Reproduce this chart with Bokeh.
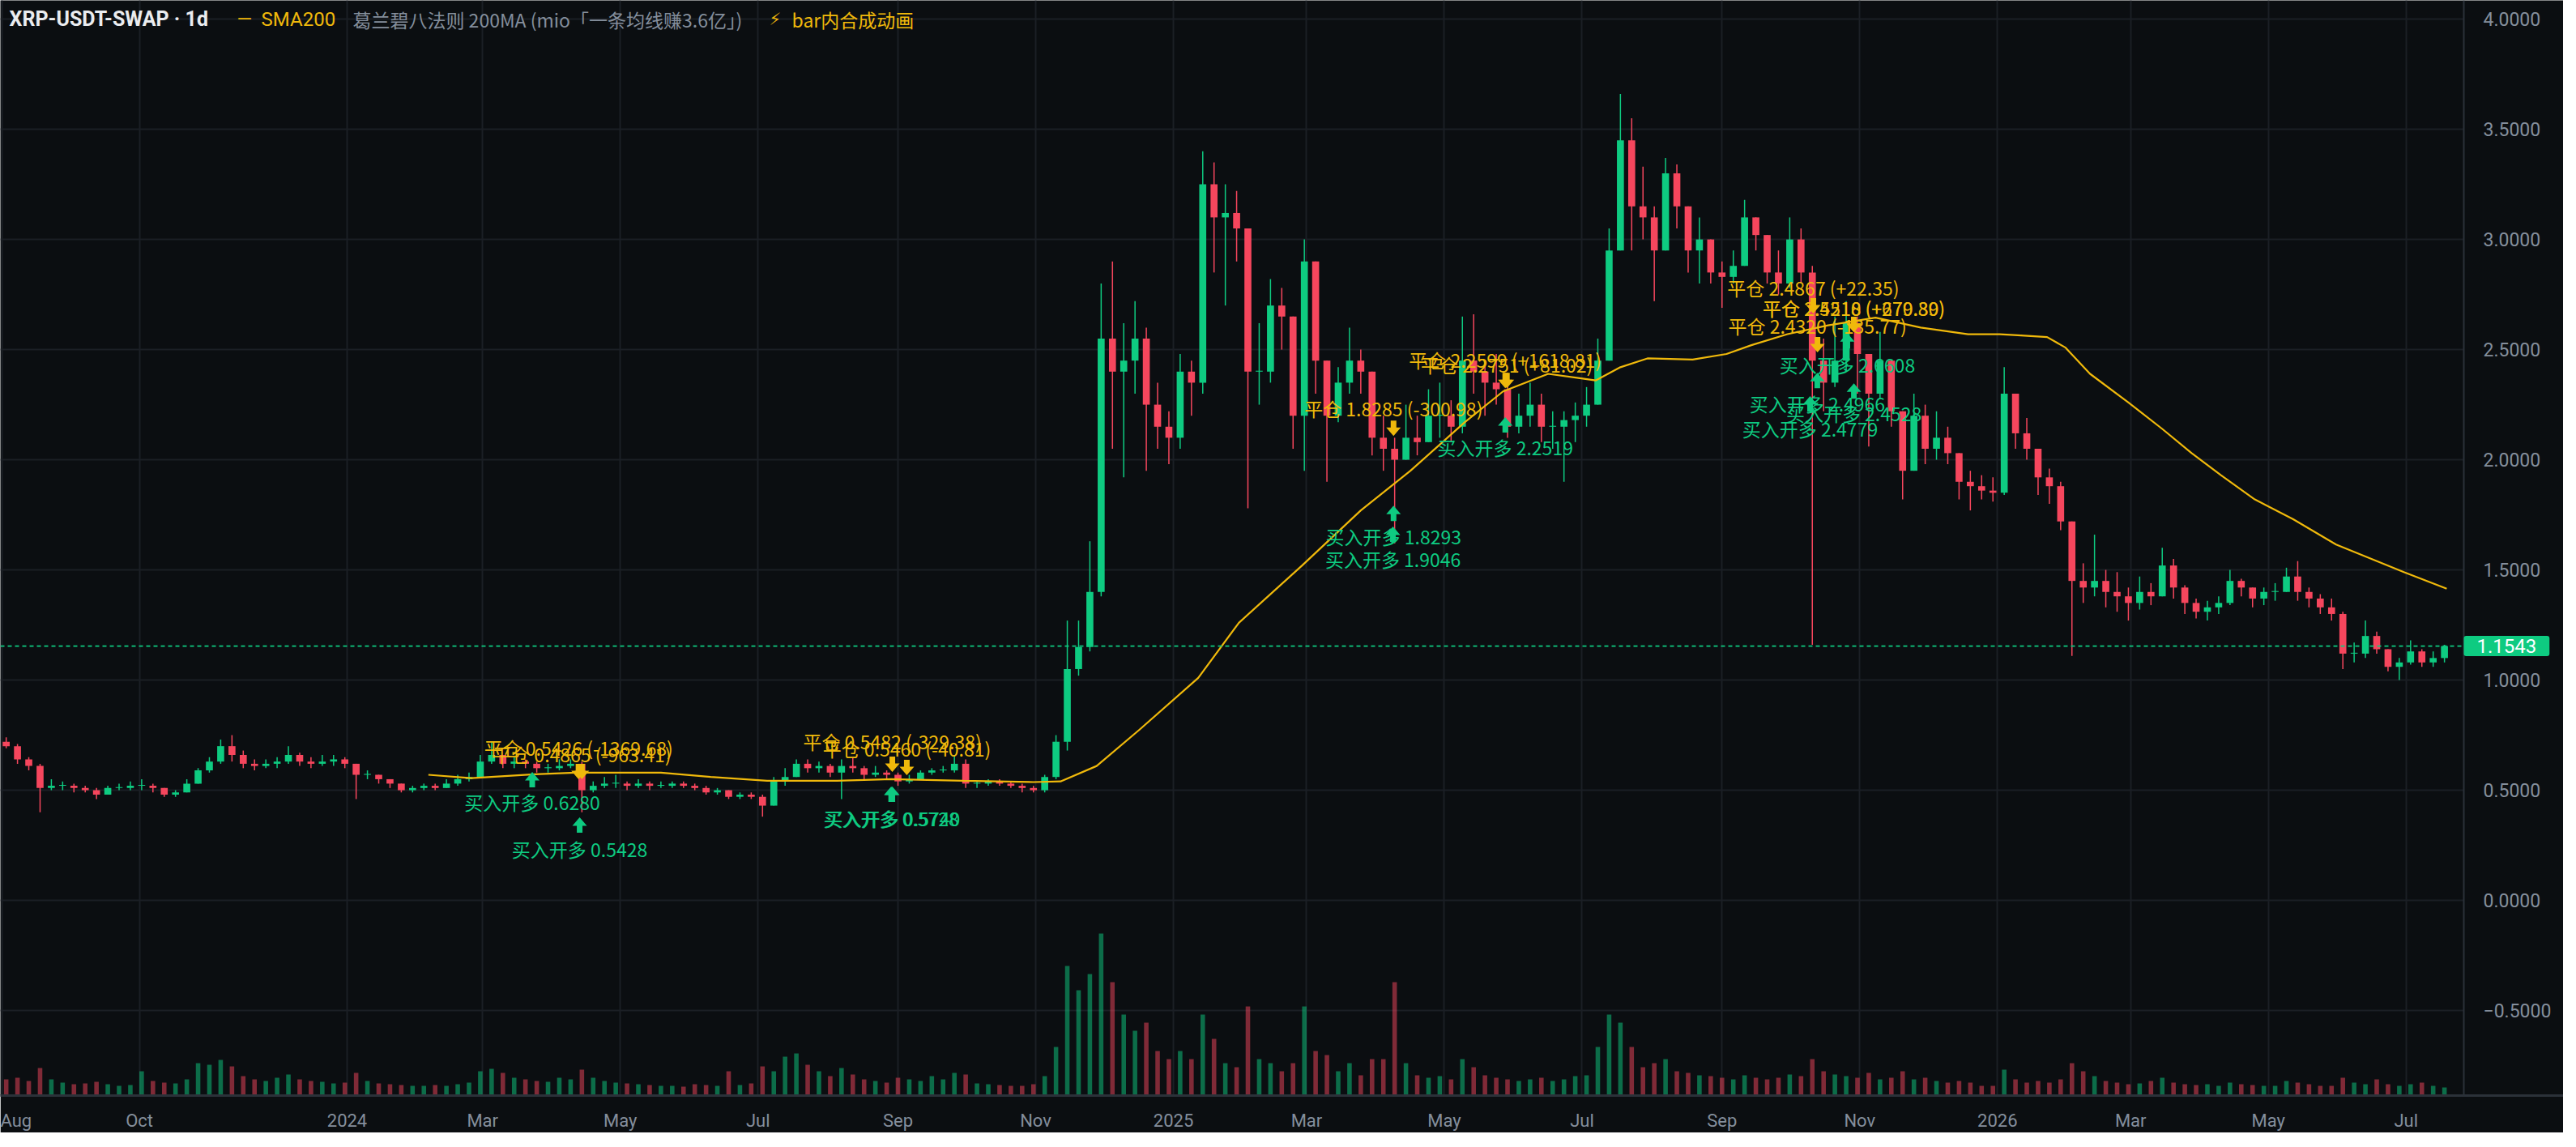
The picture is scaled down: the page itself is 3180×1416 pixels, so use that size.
import numpy as np
import pandas as pd
from bokeh.plotting import figure
from bokeh.models import ColumnDataSource, Range1d, FixedTicker, PrintfTickFormatter, Label, LinearAxis
from bokeh.layouts import column
from bokeh.core.properties import value
from bokeh.embed import file_html
from bokeh.resources import INLINE

# ---------------- data ----------------
first_candle_date = "2023-08-03"      # centre of the first 5-day candle
candle_days = 5
first_open = 0.72
closes = [
    0.70, 0.64, 0.61, 0.51, 0.52, 0.52, 0.51, 0.50, 0.48, 0.51,
    0.51, 0.52, 0.52, 0.51, 0.48, 0.49, 0.53, 0.59, 0.63, 0.70,
    0.66, 0.62, 0.61, 0.62, 0.63, 0.66, 0.63, 0.62, 0.63, 0.64,
    0.62, 0.57, 0.57, 0.55, 0.53, 0.50, 0.51, 0.52, 0.51, 0.53,
    0.55, 0.56, 0.63, 0.66, 0.62, 0.63, 0.62, 0.60, 0.60, 0.61,
    0.62, 0.50, 0.52, 0.53, 0.53, 0.52, 0.53, 0.52, 0.52, 0.53,
    0.52, 0.51, 0.49, 0.50, 0.47, 0.48, 0.47, 0.43, 0.54, 0.56,
    0.62, 0.60, 0.61, 0.58, 0.61, 0.60, 0.57, 0.58, 0.57, 0.54,
    0.55, 0.58, 0.59, 0.59, 0.62, 0.53, 0.53, 0.54, 0.53, 0.52,
    0.51, 0.50, 0.56, 0.72, 1.05, 1.15, 1.40, 2.55, 2.40, 2.45,
    2.55, 2.25, 2.15, 2.10, 2.40, 2.35, 3.25, 3.10, 3.12, 3.05,
    2.40, 2.40, 2.70, 2.65, 2.20, 2.90, 2.45, 2.20, 2.35, 2.45,
    2.40, 2.10, 2.05, 2.00, 2.10, 2.08, 2.20, 2.20, 2.15, 2.45,
    2.40, 2.35, 2.32, 2.15, 2.20, 2.25, 2.15, 2.15, 2.18, 2.20,
    2.25, 2.45, 2.95, 3.45, 3.15, 3.10, 2.95, 3.30, 3.15, 2.95,
    3.00, 2.85, 2.83, 2.88, 3.10, 3.02, 2.85, 2.80, 3.00, 2.85,
    2.45, 2.35, 2.45, 2.62, 2.48, 2.30, 2.45, 2.22, 1.95, 2.20,
    2.05, 2.10, 2.03, 1.90, 1.88, 1.86, 1.85, 2.30, 2.12, 2.05,
    1.92, 1.88, 1.72, 1.45, 1.42, 1.45, 1.40, 1.38, 1.35, 1.40,
    1.38, 1.52, 1.42, 1.35, 1.31, 1.33, 1.35, 1.45, 1.42, 1.37,
    1.40, 1.40, 1.47, 1.40, 1.37, 1.33, 1.30, 1.12, 1.12, 1.20,
    1.14, 1.06, 1.08, 1.13, 1.08, 1.10, 1.1543,
]
highs = [
    0.74, 0.71, 0.65, 0.62, 0.55, 0.54, 0.53, 0.52, 0.51, 0.52,
    0.53, 0.54, 0.55, 0.53, 0.51, 0.50, 0.55, 0.60, 0.65, 0.73,
    0.75, 0.68, 0.64, 0.64, 0.65, 0.70, 0.67, 0.65, 0.66, 0.66,
    0.65, 0.62, 0.59, 0.57, 0.55, 0.53, 0.52, 0.53, 0.53, 0.55,
    0.57, 0.58, 0.66, 0.72, 0.66, 0.65, 0.64, 0.63, 0.62, 0.64,
    0.64, 0.63, 0.54, 0.56, 0.57, 0.54, 0.55, 0.54, 0.54, 0.54,
    0.54, 0.53, 0.52, 0.51, 0.49, 0.49, 0.49, 0.48, 0.56, 0.60,
    0.64, 0.64, 0.63, 0.62, 0.64, 0.65, 0.61, 0.61, 0.59, 0.58,
    0.57, 0.59, 0.60, 0.61, 0.66, 0.64, 0.54, 0.55, 0.55, 0.54,
    0.53, 0.52, 0.57, 0.75, 1.27, 1.27, 1.63, 2.80, 2.90, 2.62,
    2.72, 2.60, 2.35, 2.22, 2.48, 2.45, 3.40, 3.35, 3.25, 3.22,
    3.05, 2.62, 2.82, 2.78, 2.65, 3.00, 2.90, 2.45, 2.42, 2.60,
    2.50, 2.40, 2.20, 2.10, 2.25, 2.20, 2.32, 2.35, 2.27, 2.65,
    2.66, 2.45, 2.48, 2.35, 2.30, 2.35, 2.30, 2.22, 2.22, 2.26,
    2.33, 2.55, 3.05, 3.66, 3.55, 3.33, 3.15, 3.37, 3.34, 3.14,
    3.10, 3.00, 2.90, 2.95, 3.18, 3.10, 3.00, 2.95, 3.10, 3.05,
    2.88, 2.55, 2.65, 2.72, 2.65, 2.48, 2.58, 2.45, 2.22, 2.30,
    2.25, 2.22, 2.15, 2.03, 1.95, 1.93, 1.92, 2.42, 2.30, 2.19,
    2.05, 1.96, 1.90, 1.72, 1.53, 1.66, 1.50, 1.49, 1.42, 1.47,
    1.44, 1.60, 1.55, 1.43, 1.37, 1.36, 1.38, 1.50, 1.46, 1.42,
    1.42, 1.44, 1.51, 1.54, 1.42, 1.39, 1.37, 1.31, 1.17, 1.27,
    1.22, 1.13, 1.10, 1.18, 1.14, 1.13, 1.16,
]
lows = [
    0.69, 0.62, 0.59, 0.40, 0.50, 0.50, 0.49, 0.49, 0.46, 0.48,
    0.50, 0.50, 0.50, 0.49, 0.47, 0.47, 0.49, 0.53, 0.58, 0.62,
    0.63, 0.60, 0.59, 0.60, 0.60, 0.62, 0.61, 0.60, 0.61, 0.61,
    0.60, 0.46, 0.55, 0.53, 0.51, 0.49, 0.49, 0.50, 0.50, 0.51,
    0.52, 0.54, 0.56, 0.62, 0.60, 0.60, 0.60, 0.58, 0.58, 0.59,
    0.60, 0.40, 0.49, 0.51, 0.51, 0.50, 0.51, 0.50, 0.51, 0.51,
    0.51, 0.50, 0.48, 0.48, 0.46, 0.46, 0.46, 0.38, 0.43, 0.52,
    0.56, 0.58, 0.58, 0.56, 0.46, 0.58, 0.55, 0.56, 0.55, 0.52,
    0.53, 0.55, 0.57, 0.58, 0.58, 0.51, 0.51, 0.52, 0.52, 0.51,
    0.49, 0.49, 0.49, 0.55, 0.68, 1.02, 1.13, 1.38, 2.05, 1.92,
    2.30, 1.95, 2.05, 1.98, 2.05, 2.20, 2.30, 2.85, 2.70, 2.90,
    1.78, 2.25, 2.35, 2.50, 2.05, 1.95, 2.30, 1.90, 2.17, 2.30,
    2.30, 2.02, 1.95, 1.62, 2.00, 2.02, 2.08, 2.10, 2.08, 2.12,
    2.30, 2.20, 2.25, 2.10, 2.12, 2.15, 2.08, 2.05, 1.90, 2.08,
    2.15, 2.25, 2.45, 2.95, 2.95, 3.00, 2.72, 2.95, 3.05, 2.85,
    2.80, 2.80, 2.69, 2.80, 2.88, 2.95, 2.80, 2.75, 2.78, 2.80,
    1.16, 2.22, 2.33, 2.40, 2.30, 2.06, 2.28, 2.15, 1.82, 1.95,
    1.98, 2.00, 1.98, 1.82, 1.77, 1.82, 1.81, 1.84, 2.05, 2.00,
    1.84, 1.80, 1.68, 1.11, 1.35, 1.38, 1.33, 1.31, 1.27, 1.32,
    1.34, 1.38, 1.37, 1.30, 1.28, 1.27, 1.30, 1.34, 1.38, 1.33,
    1.34, 1.36, 1.40, 1.36, 1.33, 1.30, 1.27, 1.05, 1.08, 1.10,
    1.12, 1.04, 1.00, 1.07, 1.06, 1.06, 1.08,
]
volumes = [
    20, 22, 18, 34, 20, 16, 14, 15, 17, 14,
    12, 13, 30, 18, 16, 15, 20, 40, 38, 44,
    36, 24, 20, 18, 22, 26, 20, 18, 17, 15,
    16, 28, 18, 15, 14, 13, 12, 12, 13, 12,
    14, 16, 30, 33, 28, 22, 20, 18, 17, 22,
    20, 32, 22, 18, 16, 15, 14, 13, 12, 12,
    11, 14, 13, 12, 30, 13, 15, 36, 30, 48,
    52, 38, 30, 24, 34, 26, 20, 18, 16, 22,
    20, 18, 24, 20, 28, 26, 15, 14, 13, 12,
    12, 14, 24, 60, 160, 130, 150, 200, 140, 100,
    80, 90, 55, 45, 55, 45, 100, 70, 40, 35,
    110, 45, 40, 30, 40, 110, 55, 50, 30, 40,
    25, 45, 45, 140, 40, 25, 22, 24, 20, 45,
    35, 25, 22, 20, 18, 20, 22, 18, 20, 24,
    25, 60, 100, 90, 60, 35, 40, 45, 30, 28,
    25, 24, 22, 20, 25, 22, 20, 22, 26, 24,
    45, 30, 26, 24, 22, 28, 20, 22, 30, 20,
    22, 18, 16, 18, 16, 12, 12, 32, 20, 16,
    18, 16, 20, 40, 30, 24, 18, 16, 14, 15,
    18, 22, 16, 14, 13, 14, 12, 16, 14, 13,
    12, 12, 18, 16, 14, 12, 12, 22, 16, 14,
    20, 14, 12, 14, 16, 12, 10,
]
last_price = 1.1543

sma_dates = [
    "2024-02-06", "2024-02-25", "2024-03-24", "2024-04-11", "2024-05-03", "2024-05-19",
    "2024-06-10", "2024-07-05", "2024-08-05", "2024-08-29", "2024-09-30", "2024-10-31",
    "2024-11-12", "2024-11-28", "2024-12-17", "2025-01-12", "2025-01-30", "2025-02-27",
    "2025-03-25", "2025-04-16", "2025-05-10", "2025-05-27", "2025-06-16", "2025-06-30",
    "2025-07-07", "2025-07-18", "2025-07-30", "2025-08-19", "2025-09-03", "2025-09-14",
    "2025-09-30", "2025-10-18", "2025-11-08", "2025-11-28", "2025-12-19", "2026-01-02",
    "2026-01-10", "2026-01-23", "2026-01-31", "2026-02-11", "2026-02-28", "2026-03-15",
    "2026-03-28", "2026-04-10", "2026-04-25", "2026-05-12", "2026-05-31", "2026-06-30",
    "2026-07-19",
]
sma_values = [
    0.570, 0.555, 0.572, 0.580, 0.580, 0.580,
    0.560, 0.543, 0.543, 0.550, 0.543, 0.537,
    0.540, 0.610, 0.775, 1.010, 1.260, 1.520,
    1.770, 1.950, 2.170, 2.310, 2.390, 2.370,
    2.360, 2.420, 2.460, 2.455, 2.480, 2.520,
    2.570, 2.610, 2.645, 2.600, 2.570, 2.570,
    2.565, 2.557, 2.510, 2.390, 2.260, 2.140,
    2.030, 1.930, 1.820, 1.730, 1.615, 1.490,
    1.415,
]

month_ticks = [
    "2023-08-01", "2023-10-01", "2024-01-01", "2024-03-01", "2024-05-01", "2024-07-01",
    "2024-09-01", "2024-11-01", "2025-01-01", "2025-03-01", "2025-05-01", "2025-07-01",
    "2025-09-01", "2025-11-01", "2026-01-01", "2026-03-01", "2026-05-01", "2026-07-01",
]
month_labels = ["Aug", "Oct", "2024", "Mar", "May", "Jul", "Sep", "Nov", "2025",
                "Mar", "May", "Jul", "Sep", "Nov", "2026", "Mar", "May", "Jul"]
price_ticks = [-0.5, 0.0, 0.5, 1.0, 1.5, 2.0, 2.5, 3.0, 3.5, 4.0]

buy_dates = ["2024-03-23 00:00", "2024-04-13 00:00", "2024-08-29 00:00", "2024-08-29 12:00",
             "2025-04-08 12:00", "2025-04-08 06:00", "2025-05-28 00:00", "2025-10-26 12:00",
             "2025-10-13 05:00", "2025-10-29 10:00", "2025-10-10 00:00"]
buy_arrow_y = [0.548, 0.342, 0.482, 0.482, 1.757, 1.662, 2.158, 2.540, 2.360, 2.312, 2.254]
buy_label_y = [0.445, 0.235, 0.375, 0.375, 1.654, 1.551, 2.059, 2.434, 2.254, 2.210, 2.143]
buy_labels = ["买入开多 0.6280", "买入开多 0.5428", "买入开多 0.5728", "买入开多 0.5740",
              "买入开多 1.8293", "买入开多 1.9046", "买入开多 2.2519", "买入开多 2.6608",
              "买入开多 2.4966", "买入开多 2.4528", "买入开多 2.4779"]

sell_dates = ["2024-04-12 12:00", "2024-04-14 00:00", "2024-08-29 12:00", "2024-09-04 22:00",
              "2025-04-08 12:00", "2025-05-28 00:00", "2025-05-28 17:00", "2025-10-11 10:00",
              "2025-10-29 10:00", "2025-10-29 10:00", "2025-10-13 07:00"]
sell_arrow_y = [0.585, 0.585, 0.618, 0.603, 2.143, 2.360, 2.360, 2.699, 2.614, 2.614, 2.522]
sell_label_y = [0.695, 0.665, 0.724, 0.688, 2.232, 2.456, 2.434, 2.783, 2.691, 2.691, 2.607]
sell_labels = ["平仓 0.5426 (-1369.68)", "平仓 0.4865 (-963.41)", "平仓 0.5482 (-329.38)",
               "平仓 0.5460 (-40.81)", "平仓 1.8285 (-300.98)", "平仓 2.2599 (+1618.81)",
               "平仓 2.2751 (+81.02)", "平仓 2.4867 (+22.35)", "平仓 2.5218 (+279.30)",
               "平仓 2.4510 (+670.89)", "平仓 2.4320 (-135.77)"]

header_dates = ["2023-08-04 10:00", "2023-11-13 05:00", "2023-11-24 00:00",
                "2024-01-03 12:00", "2024-07-05 22:00", "2024-07-16 00:00"]
header_texts = ["XRP-USDT-SWAP · 1d", "—", "SMA200",
                "葛兰碧八法则 200MA (mio「一条均线赚3.6亿」)", "⚡", "bar内合成动画"]
header_y = 4.0

# ---------------- styling ----------------
BG = "#0b0e11"
GRID = "#1b1f25"
AXIS = "#2b3139"
GRAY = "#848e9c"
GREEN = "#0ecb81"
RED = "#f6465d"
YELLOW = "#f0b90b"
WHITE = "#eaecef"
CJK = "Noto Sans CJK SC"
LAT = "Roboto"

DAY_MS = 86400000.0
PLOT_W, FRAME_H = 3041, 1352      # price area width (to the axis line) and frame height
TOTAL_W = 3164


def to_ms(dates):
    return pd.to_datetime(dates).as_unit("ns").asi8 / 1e6


jan1 = pd.Timestamp("2024-01-01").value / 1e6
x_start = jan1 - 153.57 * DAY_MS
axis_x = jan1 + 937.57 * DAY_MS          # where the price axis line sits
px_x = (axis_x - x_start) / PLOT_W
x_end = x_start + TOTAL_W * px_x
y_start, y_end = -0.886, 4.085
px_y = (y_end - y_start) / FRAME_H

p = figure(frame_width=TOTAL_W, frame_height=FRAME_H, x_axis_type="datetime",
           y_axis_location=None,
           x_range=Range1d(x_start, x_end), y_range=Range1d(y_start, y_end),
           output_backend="svg", toolbar_location=None,
           background_fill_color=BG, border_fill_color=BG, outline_line_color=None,
           min_border_left=0, min_border_top=0, min_border_right=0, min_border_bottom=42)
p.extra_y_ranges = {"vol": Range1d(0, FRAME_H)}

# price axis drawn at a fixed location, labels to its right
yax = LinearAxis(fixed_location=axis_x, ticker=FixedTicker(ticks=price_ticks),
                 formatter=PrintfTickFormatter(format="%.4f"))
yax.major_label_overrides = {-0.5: "\u22120.5000"}
yax.major_tick_line_color = None
yax.minor_tick_line_color = None
yax.axis_line_color = AXIS
yax.axis_line_width = 2
yax.major_label_text_color = GRAY
yax.major_label_text_font = LAT
yax.major_label_text_font_size = "23px"
yax.major_label_standoff = 18
p.add_layout(yax, "right")

# grid
p.xgrid.grid_line_color = GRID
p.xgrid.grid_line_width = 2
p.ygrid.visible = False
p.segment(x0=x_start, y0=price_ticks, x1=axis_x, y1=price_ticks,
          line_color=GRID, line_width=2)

# x axis
tick_ms = list(to_ms(month_ticks))
p.xaxis.ticker = FixedTicker(ticks=tick_ms)
p.xaxis.major_label_overrides = {t: l for t, l in zip(tick_ms, month_labels)}
p.xaxis.major_tick_line_color = None
p.xaxis.minor_tick_line_color = None
p.xaxis.axis_line_color = AXIS
p.xaxis.axis_line_width = 3
p.xaxis.major_label_text_color = GRAY
p.xaxis.major_label_text_font = LAT
p.xaxis.major_label_text_font_size = "22px"
p.xaxis.major_label_standoff = 12

# candles + volume
n = len(closes)
dates = pd.date_range(first_candle_date, periods=n, freq=f"{candle_days}D")
x_ms = dates.as_unit("ns").asi8 / 1e6
c = np.array(closes, dtype=float)
o = np.array([first_open] + closes[:-1], dtype=float)
hi = np.maximum.reduce([np.array(highs, dtype=float), o, c])
lo = np.minimum.reduce([np.array(lows, dtype=float), o, c])
inc = c >= o
col = np.where(inc, GREEN, RED)
top = np.maximum(o, c)
bot = np.minimum(o, c)
top = np.where(top - bot < 0.004, bot + 0.004, top)
src = ColumnDataSource(dict(x=x_ms, top=top, bottom=bot, high=hi, low=lo,
                            color=col, vol=np.array(volumes, dtype=float)))

p.vbar(x="x", width=2.0 * DAY_MS, top="vol", bottom=0, y_range_name="vol",
       fill_color="color", fill_alpha=0.5, line_color=None, source=src)
p.segment(x0="x", y0="low", x1="x", y1="high", line_color="color", line_width=1.5, source=src)
p.vbar(x="x", width=3.1 * DAY_MS, top="top", bottom="bottom",
       fill_color="color", line_color=None, source=src)

# SMA200
p.line(x=to_ms(sma_dates), y=sma_values, line_color=YELLOW, line_width=2.2)

# last price line (stops at the axis line)
p.segment(x0=[x_start], y0=[last_price], x1=[axis_x], y1=[last_price],
          line_color=GREEN, line_dash="5 4", line_width=1.6)

# trade arrows
up_shape = [(0, 9.5), (9, -1), (3.5, -1), (3.5, -9.5), (-3.5, -9.5), (-3.5, -1), (-9, -1)]


def arrow_patches(xs_ms, ys, direction):
    pxs, pys = [], []
    for x, y in zip(xs_ms, ys):
        pxs.append([x + dx * px_x for dx, dy in up_shape])
        pys.append([y + direction * dy * px_y for dx, dy in up_shape])
    return pxs, pys


bx = to_ms(buy_dates)
sx = to_ms(sell_dates)
bxs, bys = arrow_patches(bx, buy_arrow_y, 1)
sxs, sys_ = arrow_patches(sx, sell_arrow_y, -1)
p.patches(xs=bxs, ys=bys, fill_color=GREEN, line_color=None)
p.patches(xs=sxs, ys=sys_, fill_color=YELLOW, line_color=None)

p.text(x=bx, y=buy_label_y, text=buy_labels, text_color=GREEN, text_font=value(CJK),
       text_font_size="23px", text_align="center", text_baseline="middle")
p.text(x=sx, y=sell_label_y, text=sell_labels, text_color=YELLOW, text_font=value(CJK),
       text_font_size="23px", text_align="center", text_baseline="middle")

# header
hx = to_ms(header_dates)
p.text(x=[hx[0]], y=[header_y], text=[header_texts[0]], text_color=WHITE, text_font=value(LAT),
       text_font_style="bold", text_font_size="25px", text_align="left", text_baseline="middle")
p.text(x=[hx[1], hx[2]], y=[header_y, header_y], text=header_texts[1:3], text_color=YELLOW,
       text_font=value(LAT), text_font_size="24px", text_align="left", text_baseline="middle")
p.text(x=[hx[3]], y=[header_y], text=[header_texts[3]], text_color=GRAY, text_font=value(CJK),
       text_font_size="23px", text_align="left", text_baseline="middle")
p.text(x=[hx[4]], y=[header_y], text=[header_texts[4]], text_color=YELLOW,
       text_font=value("DejaVu Sans"), text_font_size="21px", text_align="left", text_baseline="middle")
p.text(x=[hx[5]], y=[header_y], text=[header_texts[5]], text_color=YELLOW, text_font=value(CJK),
       text_font_size="23px", text_align="left", text_baseline="middle")

# last price tag on the axis
p.add_layout(Label(x=axis_x, y=last_price, text=f"{last_price:.4f}", text_color="#ffffff",
                   text_font=LAT, text_font_size="24px", text_align="left",
                   text_baseline="middle", background_fill_color=GREEN,
                   padding=(16, 4), border_radius=3))

# bottom accent strip
bar = figure(width=TOTAL_W, height=6, x_range=Range1d(0, 1), y_range=Range1d(0, 1),
             output_backend="svg", toolbar_location=None, min_border=0,
             background_fill_color=YELLOW, border_fill_color=YELLOW, outline_line_color=None,
             x_axis_location=None, y_axis_location=None)
bar.grid.visible = False

layout = column(p, bar, spacing=0)
open("out.html", "w").write(file_html(layout, INLINE))
